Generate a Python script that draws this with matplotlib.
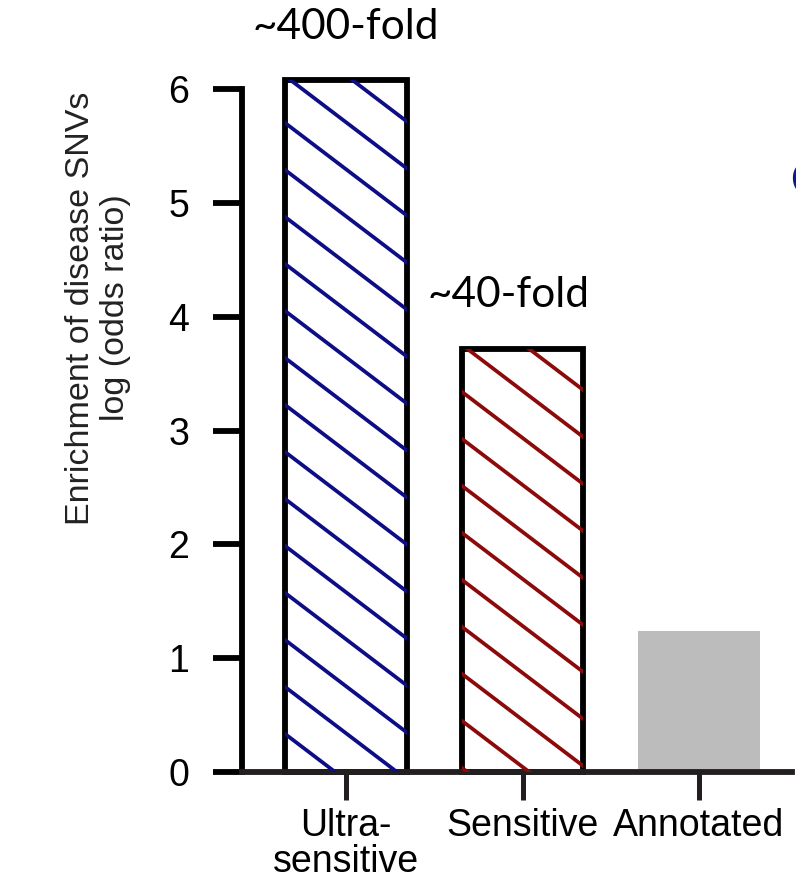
import matplotlib

matplotlib.use("Agg")

import matplotlib.pyplot as plt  # noqa: E402
import numpy as np  # noqa: E402
from matplotlib.lines import Line2D  # noqa: E402

plt.rcParams["font.family"] = ["Liberation Sans", "DejaVu Sans"]

# ---- data
categories = ["Ultra-\nsensitive", "Sensitive", "Annotated"]
log_odds = [6.08, 3.72, 1.24]
fold_labels = ["~400-fold", "~40-fold", None]
y_ticks = [0, 1, 2, 3, 4, 5, 6]

HATCH_COLORS = ["#0d0d85", "#8c0a0a", None]
FACE_GRAY = "#bcbcbc"
BAR_W = 0.69
HATCH_GAP_PX = 47.0      # vertical distance between hatch lines
HATCH_SLOPE = 0.76       # px down per px right
HATCH_PHASE_PX = 43.0    # first line below bar top at its left edge

fig = plt.figure(figsize=(7.96, 8.88), dpi=100)
ax = fig.add_axes([242 / 796, 116 / 888, 550 / 796, 717 / 888])
ax.set_xlim(-0.59, 2.527)
ax.set_ylim(0, 6.3)

x = np.arange(len(categories))
faces = ["white" if c else FACE_GRAY for c in HATCH_COLORS]
bars = ax.bar(x, log_odds, width=BAR_W, color=faces, edgecolor="none", zorder=2)

fig.canvas.draw()
for bar, col in zip(bars, HATCH_COLORS):
    if col is None:
        continue
    (x0, y0), (x1, y1) = ax.transData.transform(
        [[bar.get_x(), 0.0], [bar.get_x() + bar.get_width(), bar.get_height()]])
    n = int((y1 - y0) / HATCH_GAP_PX) + 6
    for k in range(-3, n):
        ya = y1 - HATCH_PHASE_PX - k * HATCH_GAP_PX
        xs = np.array([x0 - 20, x1 + 20])
        ys = ya - HATCH_SLOPE * (xs - x0)
        ln = Line2D(xs, ys, transform=None, color=col, lw=2.7, zorder=3)
        ln.set_clip_path(bar)
        fig.add_artist(ln)

# black outline on the two hatched bars
edge_x = [xi for xi, c in zip(x, HATCH_COLORS) if c]
edge_h = [v for v, c in zip(log_odds, HATCH_COLORS) if c]
ax.bar(edge_x, edge_h, width=BAR_W, facecolor="none", edgecolor="black",
       linewidth=4.2, zorder=4, clip_on=False)

label_dx = [0.0, -0.08, 0.0]
for xi, v, lab, dx in zip(x, log_odds, fold_labels, label_dx):
    if lab:
        ax.text(xi + dx, v + 0.47, lab,
                family=["Lato", "DejaVu Sans"], fontsize=30.5,
                ha="center", va="center", clip_on=False)

# axes styling
for s in ("top", "right"):
    ax.spines[s].set_visible(False)
ax.spines["left"].set_bounds(0, 6)
ax.spines["left"].set_linewidth(4.2)
ax.spines["left"].set_color("black")
ax.spines["bottom"].set_linewidth(4.2)
ax.spines["bottom"].set_color("#231f20")
ax.spines["bottom"].set_zorder(5)

ax.set_yticks(y_ticks)
ax.set_yticklabels([str(t) for t in y_ticks], fontsize=27)
ax.set_xticks(x)
ax.set_xticklabels(categories, fontsize=27, linespacing=0.98)
ax.tick_params(axis="y", length=21, width=4.2, pad=17, color="black")
ax.tick_params(axis="x", length=20, width=3.6, pad=6, color="#231f20")

fig.text(98 / 796, 1 - 308 / 888, "Enrichment of disease SNVs\nlog (odds ratio)",
         rotation=90, ha="center", va="center", multialignment="center",
         fontsize=24.5, color="#222222", linespacing=1.2)

# panel letter, mostly cut off at the right edge (as in the reference)
fig.text(790 / 796, 1 - 182 / 888, "C", family=["Lato", "DejaVu Sans"],
         fontweight="bold", fontsize=36, color="#0b1a8f", ha="left", va="center")

fig.savefig("out.png", dpi=100)
